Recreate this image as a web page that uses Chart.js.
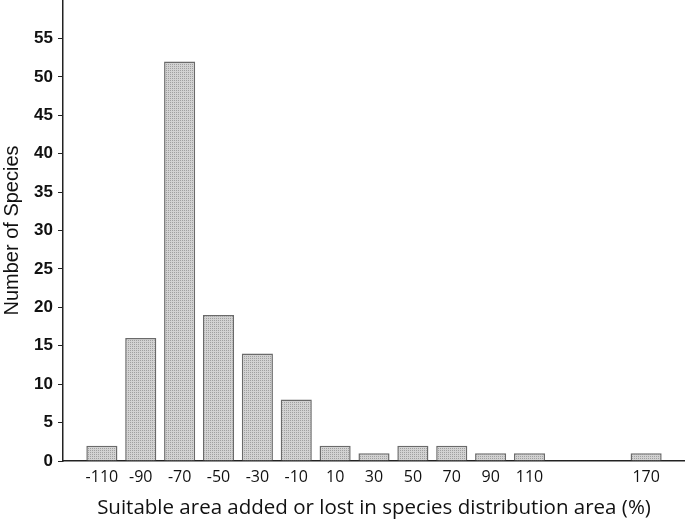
<!DOCTYPE html>
<html>
<head>
<meta charset="utf-8">
<script src="https://cdn.jsdelivr.net/npm/chart.js@4/dist/chart.umd.min.js"></script>
<style>
  html, body { margin: 0; padding: 0; background: #fff; }
  #wrap { width: 685px; height: 520px; position: relative; }
</style>
</head>
<body>
<div id="wrap"><canvas id="histChart"></canvas></div>
<script>
// histogram bins (% change in suitable area) and species counts
const bins = [-110, -90, -70, -50, -30, -10, 10, 30, 50, 70, 90, 110, 170];
const counts = [2, 16, 52, 19, 14, 8, 2, 1, 2, 2, 1, 1, 1];
const yTicks = [0, 5, 10, 15, 20, 25, 30, 35, 40, 45, 50, 55];

// dotted grey fill like the original
function makePattern() {
  const c = document.createElement("canvas");
  c.width = 4; c.height = 4;
  const g = c.getContext("2d");
  g.fillStyle = "#d2d2d2";
  g.fillRect(0, 0, 4, 4);
  g.fillStyle = "#a0a0a0";
  g.fillRect(0, 0, 1, 1);
  g.fillRect(2, 2, 1, 1);
  g.fillRect(2, 0, 1, 1);
  g.fillRect(0, 2, 1, 1);
  return g.createPattern(c, "repeat");
}

const ctx = document.getElementById("histChart").getContext("2d");
new Chart(ctx, {
  type: "bar",
  data: {
    datasets: [{
      data: bins.map((b, i) => ({ x: b, y: counts[i] })),
      backgroundColor: makePattern(),
      borderColor: "#6a6a6a",
      borderWidth: 1.5,
      borderSkipped: "start",
      categoryPercentage: 1,
      barPercentage: 0.8
    }]
  },
  options: {
    responsive: true,
    maintainAspectRatio: false,
    animation: false,
    layout: { padding: 0 },
    plugins: { legend: { display: false }, tooltip: { enabled: false } },
    scales: {
      x: {
        type: "linear",
        offset: false,
        min: -130,
        max: 190,
        afterBuildTicks: s => { s.ticks = bins.map(v => ({ value: v })); },
        grid: { display: false, drawTicks: false },
        border: { display: true, color: "#222", width: 1.5 },
        ticks: {
          color: "#111",
          font: { family: "Open Sans", size: 16 },
          padding: 7,
          maxRotation: 0,
          autoSkip: false
        },
        title: {
          display: true,
          text: "Suitable area added or lost in species distribution area (%)",
          color: "#111",
          font: { family: "Open Sans", size: 20.5 },
          padding: { top: 2, bottom: 0 }
        },
        afterFit: s => { s.height = 59; s.paddingLeft = 0; s.paddingRight = 0; }
      },
      y: {
        min: 0,
        max: 60,
        afterBuildTicks: s => { s.ticks = yTicks.map(v => ({ value: v })); },
        grid: { drawOnChartArea: false, drawTicks: true, tickLength: 5, color: "#222" },
        border: { display: true, color: "#222", width: 1.5 },
        ticks: {
          color: "#111",
          font: { family: "Liberation Sans", size: 17, weight: "bold" },
          padding: 5
        },
        title: {
          display: true,
          text: "Number of Species",
          color: "#111",
          font: { family: "Liberation Sans", size: 20 },
          padding: { top: 0, bottom: 4 }
        },
        afterFit: s => { s.width = 63; s.paddingTop = 0; s.paddingBottom = 0; }
      }
    }
  }
});
</script>
</body>
</html>
